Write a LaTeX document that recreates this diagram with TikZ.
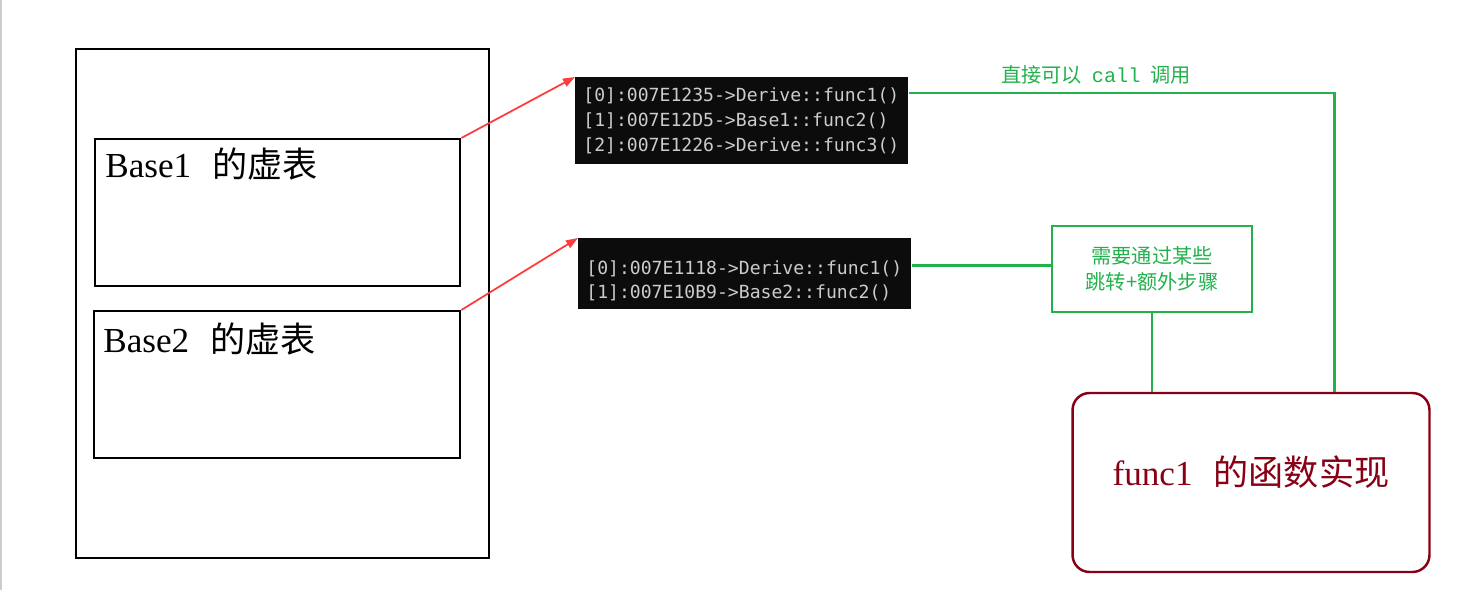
\documentclass[tikz,border=0pt]{standalone}
\usepackage{fontspec}
\setmainfont{Liberation Serif}
\setmonofont{DejaVu Sans Mono}
\newfontfamily\cjk{Noto Sans CJK SC}
\newfontfamily\callfont{Liberation Mono}
\definecolor{vtgreen}{HTML}{22B14C}
\definecolor{vtred}{HTML}{FF3B3B}
\definecolor{impred}{HTML}{880015}
\definecolor{consbg}{HTML}{0C0C0C}
\definecolor{constxt}{HTML}{CCCCCC}
\usetikzlibrary{arrows.meta}

\begin{document}
\begin{tikzpicture}[x=0.02cm,y=-0.02cm,
  box/.style={draw=black,line width=1.4pt,anchor=north west,inner sep=0pt},
  lbl/.style={font=\fontsize{20}{24}\selectfont,anchor=base west,inner sep=0pt},
  con/.style={fill=consbg,text=constxt,anchor=north west,align=left,inner xsep=0.16cm,
    text width=6.34cm,font=\ttfamily\fontsize{10.3}{14.2}\selectfont},
  gtxt/.style={text=vtgreen,font=\cjk\fontsize{11.5}{14.8}\selectfont},
  gbox/.style={draw=vtgreen,line width=1.6pt,align=center,gtxt,minimum width=4cm,minimum height=1.72cm},
  impl/.style={draw=impred,line width=1.4pt,rounded corners=0.34cm,text=impred,text depth=13.8pt,
    font=\fontsize{20}{24}\selectfont,minimum width=7.14cm,minimum height=3.58cm},
  gl/.style={draw=vtgreen,line width=1.6pt},
  ptr/.style={-{Triangle[length=2.4mm,width=1.7mm]},vtred,line width=1pt}]
\useasboundingbox (0,0) rectangle (1470,590);
\draw[black!20,line width=1pt] (1,0) -- (1,590);
% object layout
\node[box,minimum width=8.26cm,minimum height=10.18cm] (obj) at (75,48) {};
\node[box,minimum width=7.3cm,minimum height=2.94cm] (b1) at (94,138) {};
\node[box,minimum width=7.32cm,minimum height=2.94cm] (b2) at (93,310) {};
\node[lbl] (l1) at (105,178) {Base1\hspace{0.6em}{\cjk 的虚表}};
\node[lbl] (l2) at (103,353) {Base2\hspace{0.6em}{\cjk 的虚表}};
% vtable dumps
\node[con,minimum height=1.74cm] (con1) at (575,77) {[0]:007E1235->Derive::func1()\\{}[1]:007E12D5->Base1::func2()\\{}[2]:007E1226->Derive::func3()};
\node[con,inner ysep=0pt,text height=20.3pt,text depth=20.1pt] (con2) at (578,238) {[0]:007E1118->Derive::func1()\\{}[1]:007E10B9->Base2::func2()};
% call paths
\node[gbox] (gbox) at (1152,269) {需要通过某些\\跳转+额外步骤};
\node[impl] (impl) at (1251,482.5) {func1\hspace{0.6em}{\cjk 的函数实现}};
\draw[ptr] (b1.north east) -- (con1.north west);
\draw[ptr] (b2.north east) -- (con2.north west);
\draw[gl] ([yshift=-0.32cm]con1.north east) -| ([xshift=1.67cm]impl.north)
  node[pos=0.22,above=4pt,inner sep=0pt,gtxt]{直接可以\hspace{0.5em}{\callfont call}\hspace{0.5em}调用};
\draw[gl] ([yshift=0.17cm]con2.east) coordinate (g0) -- (g0 -| gbox.west);
\draw[gl] (gbox.south) -- (gbox.south |- impl.north);
\end{tikzpicture}
\end{document}
